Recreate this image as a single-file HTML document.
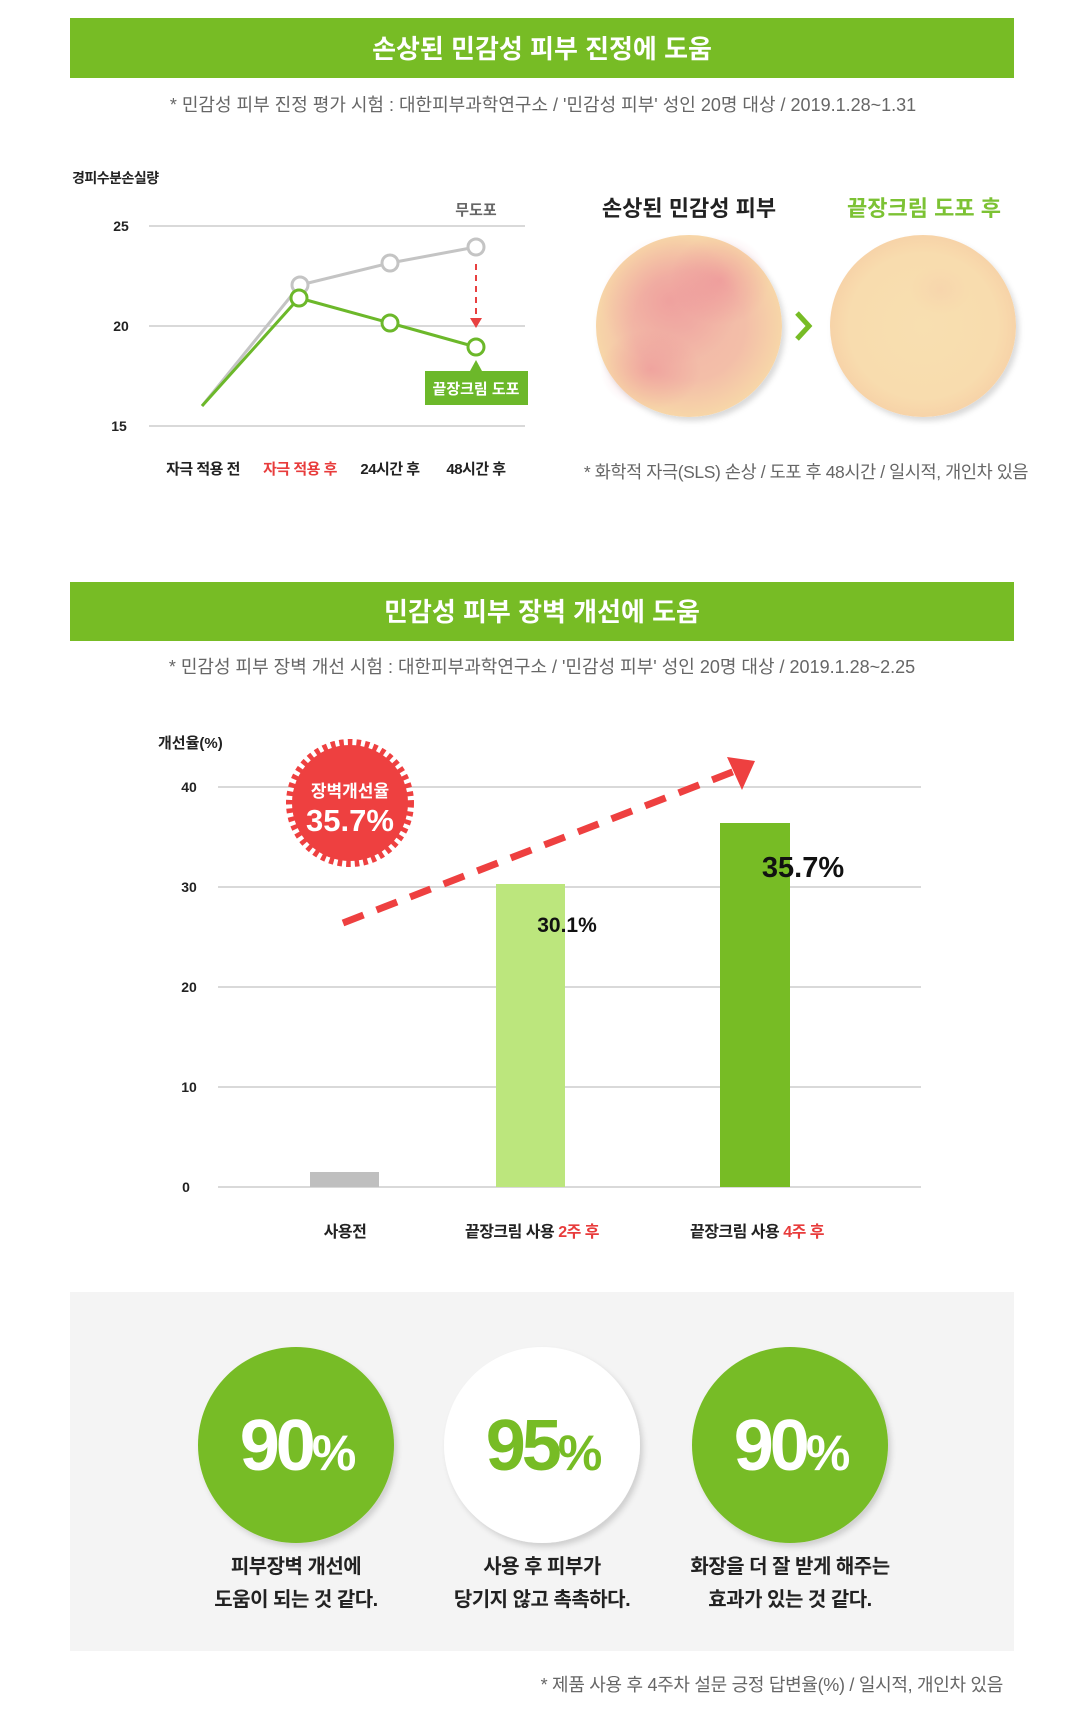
<!DOCTYPE html>
<html><head><meta charset="utf-8"><style>
html,body{margin:0;padding:0;background:#fff;}
svg{display:block;font-family:"Liberation Sans","Noto Sans CJK KR",sans-serif;}
</style></head><body>
<svg width="1080" height="1726" viewBox="0 0 1080 1726" xmlns="http://www.w3.org/2000/svg">
<defs>
<radialGradient id="skinA" cx="50%" cy="50%" r="50%">
<stop offset="0" stop-color="#f2b8a8"/><stop offset="0.6" stop-color="#f3bea8"/><stop offset="1" stop-color="#f7d6a8"/></radialGradient>
<radialGradient id="skinB" cx="50%" cy="50%" r="50%">
<stop offset="0" stop-color="#f8dfb0"/><stop offset="0.8" stop-color="#f8dcae"/><stop offset="1" stop-color="#f7d3a8"/></radialGradient>
<radialGradient id="pink" cx="50%" cy="50%" r="50%"><stop offset="0" stop-color="#e8708c" stop-opacity="0.35"/><stop offset="1" stop-color="#e8708c" stop-opacity="0"/></radialGradient>
<filter id="sh" x="-20%" y="-20%" width="140%" height="140%"><feDropShadow dx="3" dy="4" stdDeviation="3" flood-color="#000" flood-opacity="0.15"/></filter>
</defs>

<rect x="70" y="18" width="944" height="60" fill="#77bc25"/>
<text x="542" y="58" text-anchor="middle" fill="#fff" font-size="26" font-weight="bold">손상된 민감성 피부 진정에 도움</text>
<text x="543" y="111" text-anchor="middle" fill="#666" font-size="18">* 민감성 피부 진정 평가 시험 : 대한피부과학연구소 / '민감성 피부' 성인 20명 대상 / 2019.1.28~1.31</text>

<text x="72" y="183" fill="#222" font-size="14" font-weight="bold" letter-spacing="-0.5">경피수분손실량</text>
<g stroke="#d9d9d9" stroke-width="2"><line x1="149" y1="226" x2="525" y2="226"/><line x1="149" y1="326" x2="525" y2="326"/><line x1="149" y1="426" x2="525" y2="426"/></g>
<g fill="#222" font-size="14" font-weight="bold" text-anchor="middle"><text x="121" y="231">25</text><text x="121" y="331">20</text><text x="119" y="431">15</text></g>
<text x="476" y="215" text-anchor="middle" fill="#666" font-size="15" font-weight="bold">무도포</text>
<polyline points="202,406 300,285 390,263 476,247" fill="none" stroke="#c4c4c4" stroke-width="3"/>
<polyline points="202,406 299,298 390,323 476,347" fill="none" stroke="#6cb82a" stroke-width="3"/>
<g fill="#fff" stroke="#c4c4c4" stroke-width="3"><circle cx="300" cy="285" r="8"/><circle cx="390" cy="263" r="8"/><circle cx="476" cy="247" r="8"/></g>
<g fill="#fff" stroke="#6cb82a" stroke-width="3"><circle cx="299" cy="298" r="8"/><circle cx="390" cy="323" r="8"/><circle cx="476" cy="347" r="8"/></g>
<line x1="476" y1="264" x2="476" y2="318" stroke="#e84040" stroke-width="2" stroke-dasharray="6 5"/>
<polygon points="470,318 482,318 476,328" fill="#e84040"/>
<polygon points="470,371 482,371 476,360" fill="#6cb82a"/>
<rect x="425" y="371" width="103" height="34" fill="#6cb82a"/>
<text x="476" y="394" text-anchor="middle" fill="#fff" font-size="15" font-weight="bold">끝장크림 도포</text>
<g font-size="15" font-weight="bold" text-anchor="middle" letter-spacing="-0.5"><text x="203" y="474" fill="#222">자극 적용 전</text><text x="300" y="474" fill="#e83c3c">자극 적용 후</text><text x="390" y="474" fill="#222">24시간 후</text><text x="476" y="474" fill="#222">48시간 후</text></g>

<text x="689" y="216" text-anchor="middle" fill="#222" font-size="22" font-weight="bold">손상된 민감성 피부</text>
<text x="924" y="216" text-anchor="middle" fill="#7cc234" font-size="22" font-weight="bold">끝장크림 도포 후</text>
<g filter="url(#sh)"><ellipse cx="689" cy="326" rx="93" ry="91" fill="url(#skinA)"/><ellipse cx="923" cy="326" rx="93" ry="91" fill="url(#skinB)"/></g>
<ellipse cx="670" cy="300" rx="70" ry="65" fill="url(#pink)"/>
<ellipse cx="720" cy="280" rx="50" ry="45" fill="url(#pink)"/>
<ellipse cx="650" cy="370" rx="50" ry="40" fill="url(#pink)"/>
<ellipse cx="940" cy="290" rx="30" ry="25" fill="url(#pink)" opacity="0.2"/>
<polyline points="797,313 809,326 797,339" fill="none" stroke="#77bc25" stroke-width="5"/>
<text x="806" y="478" text-anchor="middle" fill="#666" font-size="17.5" letter-spacing="-0.4">* 화학적 자극(SLS) 손상 / 도포 후 48시간 / 일시적, 개인차 있음</text>

<rect x="70" y="582" width="944" height="59" fill="#77bc25"/>
<text x="542" y="621" text-anchor="middle" fill="#fff" font-size="26" font-weight="bold">민감성 피부 장벽 개선에 도움</text>
<text x="542" y="673" text-anchor="middle" fill="#666" font-size="18">* 민감성 피부 장벽 개선 시험 : 대한피부과학연구소 / '민감성 피부' 성인 20명 대상 / 2019.1.28~2.25</text>
<text x="158" y="748" fill="#222" font-size="15" font-weight="bold">개선율(%)</text>
<g stroke="#d9d9d9" stroke-width="2"><line x1="218" y1="787" x2="921" y2="787"/><line x1="218" y1="887" x2="921" y2="887"/><line x1="218" y1="987" x2="921" y2="987"/><line x1="218" y1="1087" x2="921" y2="1087"/><line x1="218" y1="1187" x2="921" y2="1187"/></g>
<g fill="#222" font-size="14" font-weight="bold" text-anchor="middle"><text x="189" y="792">40</text><text x="189" y="892">30</text><text x="189" y="992">20</text><text x="189" y="1092">10</text><text x="186" y="1192">0</text></g>
<rect x="310" y="1172" width="69" height="15" fill="#bfbfbf"/>
<rect x="496" y="884" width="69" height="303" fill="#bce67d"/>
<rect x="720" y="823" width="70" height="364" fill="#77bc25"/>
<text x="567" y="932" text-anchor="middle" fill="#111" font-size="21" font-weight="bold">30.1%</text>
<text x="803" y="877" text-anchor="middle" fill="#111" font-size="29" font-weight="bold">35.7%</text>
<line x1="343" y1="923" x2="735" y2="771" stroke="#ee4040" stroke-width="7" stroke-dasharray="22 14"/>
<polygon points="755,761 727,757 742,790" fill="#ee4040"/>
<circle cx="350" cy="803" r="58" fill="#ee4040"/>
<circle cx="350" cy="803" r="60" fill="none" stroke="#ee4040" stroke-width="8" stroke-dasharray="4.5 4"/>
<text x="350" y="797" text-anchor="middle" fill="#fff" font-size="17" font-weight="bold">장벽개선율</text>
<text x="350" y="831" text-anchor="middle" fill="#fff" font-size="31" font-weight="bold">35.7%</text>
<g font-size="16" font-weight="bold" text-anchor="middle" fill="#222" letter-spacing="-0.5"><text x="345" y="1237">사용전</text>
<text x="532" y="1237">끝장크림 사용 <tspan fill="#e83c3c">2주 후</tspan></text>
<text x="757" y="1237">끝장크림 사용 <tspan fill="#e83c3c">4주 후</tspan></text></g>

<rect x="70" y="1292" width="944" height="359" fill="#f4f4f4"/>
<g filter="url(#sh)"><circle cx="296" cy="1445" r="98" fill="#77bc25"/><circle cx="542" cy="1445" r="98" fill="#fff"/><circle cx="790" cy="1445" r="98" fill="#77bc25"/></g>
<g font-weight="bold" text-anchor="middle" letter-spacing="-4">
<text x="296" y="1470" fill="#fff" font-size="72">90<tspan font-size="50">%</tspan></text>
<text x="542" y="1470" fill="#77bc25" font-size="72">95<tspan font-size="50">%</tspan></text>
<text x="790" y="1470" fill="#fff" font-size="72">90<tspan font-size="50">%</tspan></text></g>
<g font-size="20" font-weight="bold" text-anchor="middle" fill="#222" letter-spacing="-0.5">
<text x="296" y="1573">피부장벽 개선에</text><text x="296" y="1606">도움이 되는 것 같다.</text>
<text x="542" y="1573">사용 후 피부가</text><text x="542" y="1606">당기지 않고 촉촉하다.</text>
<text x="790" y="1573">화장을 더 잘 받게 해주는</text><text x="790" y="1606">효과가 있는 것 같다.</text></g>
<text x="1003" y="1691" text-anchor="end" fill="#666" font-size="18" letter-spacing="-0.3">* 제품 사용 후 4주차 설문 긍정 답변율(%) / 일시적, 개인차 있음</text>
</svg>
</body></html>
